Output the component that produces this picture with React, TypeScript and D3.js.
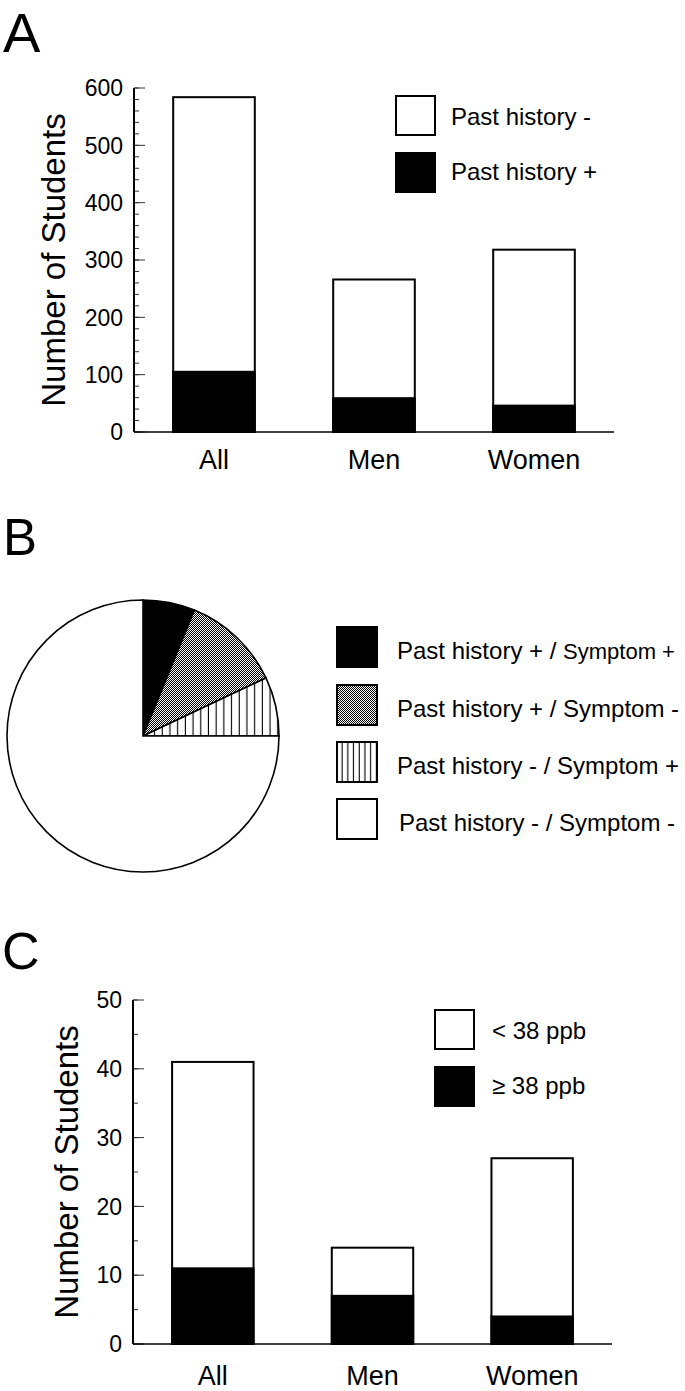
import React from "react";
import * as d3 from "d3";

// ---------- Data ----------
const categories = ["All", "Men", "Women"];
// Panel A
const aPastNeg = [479, 207, 272]; // Past history - (white segment)
const aPastPos = [105, 59, 46]; // Past history + (black segment)
const aTicks = [0, 100, 200, 300, 400, 500, 600];
const aLegend = ["Past history -", "Past history +"];
// Panel B
const pieLabels = [
  "Past history + / Symptom +",
  "Past history + / Symptom -",
  "Past history - / Symptom +",
  "Past history - / Symptom -",
];
const pieValues = [36, 69, 41, 438];
// Panel C
const cLow = [30, 7, 23]; // < 38 ppb (white segment)
const cHigh = [11, 7, 4]; // ≥ 38 ppb (black segment)
const cTicks = [0, 10, 20, 30, 40, 50];
const cLegend = ["< 38 ppb", "\u2265 38 ppb"];

const FONT = "'Liberation Sans', Arial, Helvetica, sans-serif";

type BarPanelProps = {
  top: number;
  bottom: number;
  x0: number;
  x1: number;
  max: number;
  ticks: number[];
  minorStep: number;
  white: number[];
  black: number[];
  labelBaseline: number;
  yLabelX: number;
};

function BarPanel(p: BarPanelProps) {
  const y = d3.scaleLinear().domain([0, p.max]).range([p.bottom, p.top]);
  const x = d3.scaleBand<string>().domain(categories).range([p.x0, p.x1]).padding(0);
  const bw = x.bandwidth() * 0.51;
  const minor = d3.range(0, p.max + 0.001, p.minorStep);
  const axisX = p.x0;
  return (
    <g>
      {categories.map((c, i) => {
        const bx = (x(c) as number) + (x.bandwidth() - bw) / 2;
        const total = p.white[i] + p.black[i];
        return (
          <g key={c}>
            <rect x={bx} y={y(total)} width={bw} height={y(0) - y(total)} fill="#fff" stroke="#000" strokeWidth={2} />
            <rect x={bx} y={y(p.black[i])} width={bw} height={y(0) - y(p.black[i])} fill="#000" stroke="#000" strokeWidth={2} />
          </g>
        );
      })}
      {minor.map((v) => (
        <line key={"m" + v} x1={axisX} x2={axisX + 5} y1={y(v)} y2={y(v)} stroke="#333" strokeWidth={1} />
      ))}
      {p.ticks.map((v) => (
        <g key={"t" + v}>
          <line x1={axisX} x2={axisX + 11} y1={y(v)} y2={y(v)} stroke="#333" strokeWidth={1} />
          <text x={axisX - 11} y={y(v)} dy="0.36em" textAnchor="end" fontFamily={FONT} fontSize={23}>
            {v}
          </text>
        </g>
      ))}
      <line x1={axisX} x2={axisX} y1={y(p.max)} y2={y(0)} stroke="#000" strokeWidth={2} />
      <line x1={axisX} x2={p.x1} y1={y(0)} y2={y(0)} stroke="#000" strokeWidth={1.5} />
      {categories.map((c) => (
        <text key={"xl" + c} x={(x(c) as number) + x.bandwidth() / 2} y={p.labelBaseline} textAnchor="middle" fontFamily={FONT} fontSize={27}>
          {c}
        </text>
      ))}
      <text
        transform={`translate(${p.yLabelX},${(p.top + p.bottom) / 2}) rotate(-90)`}
        textAnchor="middle"
        fontFamily={FONT}
        fontSize={33}
      >
        Number of Students
      </text>
    </g>
  );
}

function Legend2({ x, ys, tx, labels }: { x: number; ys: number[]; tx: number; labels: string[] }) {
  return (
    <g>
      <rect x={x} y={ys[0]} width={39} height={39} fill="#fff" stroke="#000" strokeWidth={2} />
      <rect x={x} y={ys[1]} width={39} height={39} fill="#000" stroke="#000" strokeWidth={2} />
      <text x={tx} y={ys[0] + 29} fontFamily={FONT} fontSize={24}>{labels[0]}</text>
      <text x={tx} y={ys[1] + 27} fontFamily={FONT} fontSize={24}>{labels[1]}</text>
    </g>
  );
}

export default function App() {
  const cx = 143;
  const cy = 736;
  const r = 136;
  const pie = d3.pie<number>().sort(null).value((d) => d).startAngle(0).endAngle(2 * Math.PI);
  const arcs = pie(pieValues);
  const arc = d3.arc<d3.PieArcDatum<number>>().innerRadius(0).outerRadius(r);
  const pieFills = ["#000", "url(#checker)", "url(#stripesPie)", "#fff"];
  const legFills = ["#000", "url(#checker)", "url(#stripesLeg)", "#fff"];
  const legY = [627, 685, 742, 799];

  return (
    <svg width={685} height={1391} style={{ position: "absolute", left: 0, top: 0, background: "#fff" }}>
      <defs>
        <pattern id="checker" x={0} y={0} width={2} height={2} patternUnits="userSpaceOnUse">
          <rect width={2} height={2} fill="#fff" shapeRendering="crispEdges" />
          <rect x={0} y={0} width={1} height={1} fill="#000" shapeRendering="crispEdges" />
          <rect x={1} y={1} width={1} height={1} fill="#000" shapeRendering="crispEdges" />
        </pattern>
        <pattern id="stripesPie" x={cx} y={0} width={7.7} height={10} patternUnits="userSpaceOnUse">
          <rect width={7.7} height={10} fill="#fff" />
          <rect x={6.6} y={0} width={1.2} height={10} fill="#000" />
        </pattern>
        <pattern id="stripesLeg" x={337} y={0} width={5.7} height={10} patternUnits="userSpaceOnUse">
          <rect width={5.7} height={10} fill="#fff" />
          <rect x={4.6} y={0} width={1.1} height={10} fill="#000" />
        </pattern>
      </defs>
      <rect width={685} height={1391} fill="#fff" />

      <text x={3} y={52} fontFamily={FONT} fontSize={56}>A</text>
      <text x={3} y={555} fontFamily={FONT} fontSize={51}>B</text>
      <text x={2} y={969} fontFamily={FONT} fontSize={52}>C</text>

      <BarPanel
        top={88}
        bottom={432}
        x0={134}
        x1={614}
        max={600}
        ticks={aTicks}
        minorStep={20}
        white={aPastNeg}
        black={aPastPos}
        labelBaseline={469}
        yLabelX={65}
      />
      <Legend2 x={396} ys={[96, 153]} tx={451} labels={aLegend} />

      <g transform={`translate(${cx},${cy})`}>
        {arcs.map((a, i) => (
          <path key={i} d={arc(a) as string} fill={pieFills[i]} stroke="#000" strokeWidth={1.6} />
        ))}
      </g>
      {pieLabels.map((lab, i) => {
        const parts = lab.split(" / ");
        return (
          <g key={lab}>
            <rect x={337} y={legY[i]} width={40} height={40} fill={legFills[i]} stroke="#000" strokeWidth={2} />
            <text x={i === 3 ? 399 : 397} y={legY[i] + 32} fontFamily={FONT} fontSize={24}>
              {parts[0] + " / "}
              {i === 0 ? <tspan fontSize={22}>{parts[1]}</tspan> : parts[1]}
            </text>
          </g>
        );
      })}

      <BarPanel
        top={1000}
        bottom={1344}
        x0={133}
        x1={612}
        max={50}
        ticks={cTicks}
        minorStep={5}
        white={cLow}
        black={cHigh}
        labelBaseline={1385}
        yLabelX={78}
      />
      <Legend2 x={435} ys={[1010, 1067]} tx={492} labels={cLegend} />
    </svg>
  );
}
